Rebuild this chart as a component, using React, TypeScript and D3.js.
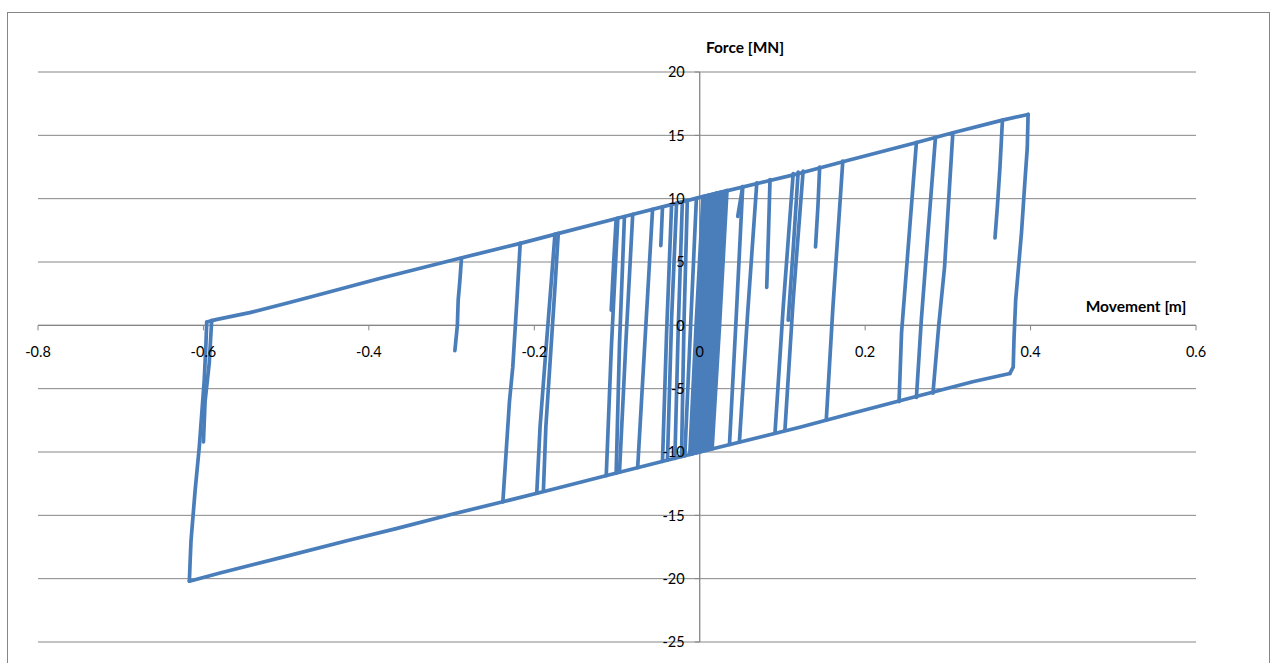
import React from "react";
import * as d3 from "d3";

type Pt = [number, number];

// axis ticks
const xTicks = [-0.8, -0.6, -0.4, -0.2, 0, 0.2, 0.4, 0.6];
const yTicks = [20, 15, 10, 5, 0, -5, -10, -15, -20, -25];

// upper (yield) envelope, movement [m] vs force [MN]
const upperEnvelope: Pt[] = [
  [-0.596, 0.26], [-0.585, 0.45], [-0.544, 1.0], [-0.496, 1.8], [-0.456, 2.5],
  [-0.387, 3.7], [-0.296, 5.2], [-0.218, 6.45], [-0.174, 7.2], [-0.097, 8.5],
  [0, 10.1], [0.121, 12.0], [0.181, 13.05], [0.26, 14.4], [0.306, 15.2],
  [0.366, 16.2], [0.397, 16.65],
];

// lower envelope
const lowerEnvelope: Pt[] = [
  [-0.617, -20.2], [-0.58, -19.55], [-0.504, -18.3], [-0.423, -16.95],
  [-0.367, -16.05], [-0.302, -14.95], [-0.238, -13.93], [-0.181, -13.0],
  [-0.097, -11.6], [0, -10.0], [0.121, -8.05], [0.181, -7.0], [0.242, -5.95],
  [0.286, -5.2], [0.33, -4.45], [0.375, -3.8],
];

// outermost unloading / reloading branches
const outerBranches: Pt[][] = [
  [[-0.617, -20.2], [-0.616, -18.5], [-0.615, -17.0], [-0.61, -13.0], [-0.605, -9.6], [-0.599, -4.3], [-0.597, -1.5], [-0.596, 0.26]],
  [[-0.59, 0.4], [-0.593, -3.0], [-0.598, -6.0], [-0.6, -9.2]],
  [[0.375, -3.8], [0.379, -3.3], [0.38, -1.0], [0.382, 2.0], [0.389, 7.3], [0.393, 11.2], [0.396, 14.0], [0.397, 16.65]],
  [[0.366, 16.2], [0.363, 12.5], [0.36, 9.5], [0.357, 6.9]],
];

// partial unloading that reverses before reaching the lower envelope
const spurs: Pt[][] = [
  [[-0.288, 5.32], [-0.29, 3.5], [-0.292, 2.0], [-0.293, 0], [-0.296, -2.0]],
  [[-0.101, 8.42], [-0.104, 5.0], [-0.107, 1.2]],
  [[-0.045, 9.35], [-0.046, 7.8], [-0.047, 6.3]],
  [[0.052, 10.96], [0.049, 9.8], [0.046, 8.6]],
  [[0.085, 11.5], [0.083, 7.0], [0.081, 3.0]],
  [[0.119, 12.1], [0.113, 6.0], [0.107, 0.4]],
  [[0.145, 12.5], [0.143, 9.5], [0.14, 6.2]],
];

// full branches on the negative side
const leftBranches: Pt[][] = [
  [[-0.238, -13.93], [-0.23, -6.0], [-0.226, -3.3], [-0.221, 2.0], [-0.217, 6.5]],
  [[-0.197, -13.25], [-0.193, -8.0], [-0.186, -2.0], [-0.18, 3.0], [-0.175, 7.2]],
  [[-0.189, -13.1], [-0.186, -8.0], [-0.18, -2.0], [-0.175, 3.0], [-0.171, 7.26]],
  [[-0.113, -11.86], [-0.107, -2.0], [-0.099, 8.46]],
  [[-0.101, -11.67], [-0.097, -1.5], [-0.091, 8.59]],
  [[-0.097, -11.6], [-0.089, -1.0], [-0.081, 8.76]],
  [[-0.075, -11.24], [-0.066, -1.0], [-0.057, 9.15]],
  [[-0.045, -10.74], [-0.04, -0.5], [-0.034, 9.54]],
  [[-0.039, -10.64], [-0.034, 0.5], [-0.028, 9.64]],
  [[-0.03, -10.5], [-0.026, -0.3], [-0.021, 9.75]],
  [[-0.022, -10.36], [-0.019, 0.2], [-0.015, 9.85]],
  [[-0.018, -10.3], [-0.011, 0], [-0.004, 10.03]],
];

// dense small cycles around zero
const centreBand: Pt[][] = [
  [[-0.012, -10.2], [-0.004, 0.5], [0.004, 10.17]],
  [[-0.01, -10.17], [-0.003, -1.0], [0.006, 10.2]],
  [[-0.008, -10.13], [0.0, 0.2], [0.008, 10.23]],
  [[-0.006, -10.1], [0.003, 1.5], [0.01, 10.27]],
  [[-0.004, -10.07], [0.004, -0.8], [0.012, 10.3]],
  [[-0.002, -10.03], [0.007, 0.6], [0.014, 10.33]],
  [[0.0, -10.0], [0.008, -0.5], [0.016, 10.37]],
  [[0.002, -9.97], [0.011, 1.0], [0.018, 10.4]],
  [[0.004, -9.93], [0.012, -0.2], [0.02, 10.43]],
  [[0.006, -9.9], [0.015, 0.8], [0.022, 10.47]],
  [[0.008, -9.87], [0.016, -0.6], [0.025, 10.52]],
  [[0.01, -9.83], [0.019, 0.4], [0.028, 10.56]],
  [[0.013, -9.79], [0.022, 1.2], [0.031, 10.61]],
  [[0.015, -9.75], [0.024, 0.0], [0.033, 10.65]],
];

// full branches on the positive side
const rightBranches: Pt[][] = [
  [[0.036, -9.41], [0.044, 0.5], [0.052, 10.96]],
  [[0.048, -9.21], [0.058, 1.0], [0.069, 11.25]],
  [[0.091, -8.5], [0.101, 1.5], [0.113, 11.98]],
  [[0.103, -8.3], [0.113, 2.0], [0.125, 12.18]],
  [[0.153, -7.48], [0.161, 1.4], [0.173, 12.97]],
  [[0.241, -6.02], [0.244, -0.6], [0.254, 7.8], [0.262, 14.45]],
  [[0.262, -5.68], [0.268, 0.5], [0.276, 7.3], [0.285, 14.83]],
  [[0.282, -5.35], [0.289, 0.0], [0.296, 4.6], [0.306, 15.18]],
];

const W = 1276;
const H = 663;
const GRID = "#868686";
const BLUE = "#4A7EBB";
const FONT = "Lato, 'Open Sans', sans-serif";

export default function App() {
  const x = d3.scaleLinear().domain([-0.8, 0.6]).range([38, 1196]);
  const y = d3.scaleLinear().domain([-25, 20]).range([642, 72]);
  const line = d3
    .line<Pt>()
    .x((d) => x(d[0]))
    .y((d) => y(d[1]));

  const allPaths: Pt[][] = [
    upperEnvelope,
    lowerEnvelope,
    ...outerBranches,
    ...spurs,
    ...leftBranches,
    ...centreBand,
    ...rightBranches,
  ];

  return (
    <svg
      width={W}
      height={H}
      style={{ position: "absolute", left: 0, top: 0, background: "#fff" }}
    >
      <rect x={7.5} y={12.5} width={1262} height={680} fill="#fff" stroke={GRID} strokeWidth={1} />

      {/* gridlines */}
      {yTicks.map((t) => (
        <line key={"g" + t} x1={x(-0.8)} x2={x(0.6)} y1={y(t)} y2={y(t)} stroke={GRID} strokeWidth={1} />
      ))}
      {/* y axis at x = 0 */}
      <line x1={x(0)} x2={x(0)} y1={y(20)} y2={y(-25)} stroke={GRID} strokeWidth={1.3} />
      {yTicks.map((t) => (
        <line key={"yt" + t} x1={x(0) - 5} x2={x(0)} y1={y(t)} y2={y(t)} stroke={GRID} />
      ))}
      {/* x axis ticks */}
      {xTicks.map((t) => (
        <line key={"xt" + t} x1={x(t)} x2={x(t)} y1={y(0)} y2={y(0) + 5} stroke={GRID} />
      ))}
      <line x1={x(-0.8)} x2={x(0.6)} y1={y(0)} y2={y(0)} stroke={GRID} strokeWidth={1.3} />

      {/* data */}
      <g fill="none" stroke={BLUE} strokeWidth={3.7} strokeLinejoin="round" strokeLinecap="round">
        {allPaths.map((p, i) => (
          <path key={i} d={line(p) || ""} />
        ))}
      </g>

      {/* tick labels */}
      <g fontFamily={FONT} fontSize={14.5} fill="#000">
        {yTicks.map((t) => (
          <text key={"yl" + t} x={x(0) - 15} y={y(t)} dy="0.36em" textAnchor="end">
            {String(t)}
          </text>
        ))}
        {xTicks.map((t) => (
          <text key={"xl" + t} x={x(t)} y={y(0) + 26} dy="0.36em" textAnchor="middle">
            {String(t)}
          </text>
        ))}
      </g>

      {/* axis titles */}
      <g fontFamily={FONT} fontSize={15.5} fontWeight="bold" fill="#000">
        <text x={745} y={47} dy="0.36em" textAnchor="middle">
          Force [MN]
        </text>
        <text x={1136} y={306} dy="0.36em" textAnchor="middle">
          Movement [m]
        </text>
      </g>
    </svg>
  );
}
